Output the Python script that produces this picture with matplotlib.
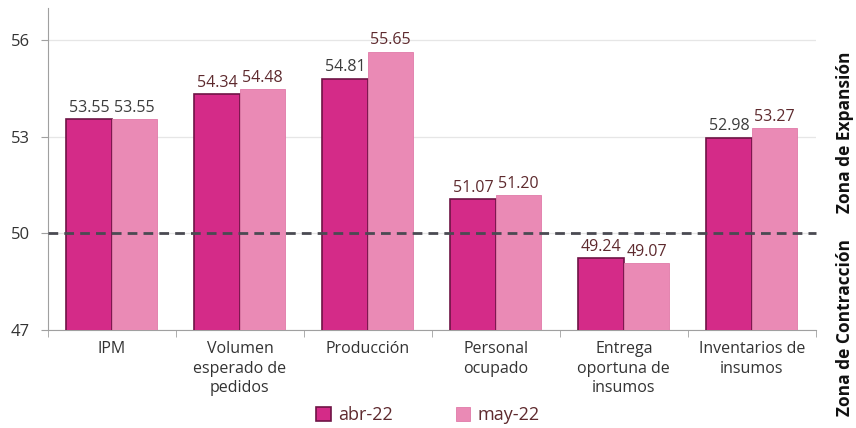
import matplotlib
matplotlib.use("Agg")
import matplotlib.pyplot as plt
import numpy as np

categories = ["IPM", "Volumen\nesperado de\npedidos", "Producción", "Personal\nocupado",
              "Entrega\noportuna de\ninsumos", "Inventarios de\ninsumos"]
abr_22 = [53.55, 54.34, 54.81, 51.07, 49.24, 52.98]
may_22 = [53.55, 54.48, 55.65, 51.20, 49.07, 53.27]
series_names = ["abr-22", "may-22"]
yticks = [47, 50, 53, 56]
threshold = 50

plt.rcParams['font.family'] = ['Open Sans', 'DejaVu Sans']

fig = plt.figure(figsize=(8.56, 4.28), dpi=100)
ax = fig.add_axes([0.056, 0.229, 0.897, 0.752])

x = np.arange(len(categories))
w = 0.355
c_abr = "#D42B88"
c_may = "#EA8AB5"
b1 = ax.bar(x - w/2, abr_22, w, bottom=0, color=c_abr, edgecolor="#6E1445", linewidth=1.2, label=series_names[0], zorder=3)
b2 = ax.bar(x + w/2, may_22, w, bottom=0, color=c_may, edgecolor="#E07AA8", linewidth=0.6, label=series_names[1], zorder=3)

lab_dark = "#3C3C3C"
lab_maroon = "#5E2A2E"
for i, (a, m) in enumerate(zip(abr_22, may_22)):
    ca = lab_dark if i in (0, 2, 5) else lab_maroon
    cm = lab_dark if i == 0 else lab_maroon
    ax.text(x[i] - w/2, a + 0.1, f"{a:.2f}", ha="center", va="bottom", fontsize=11.5, color=ca, zorder=5)
    ax.text(x[i] + w/2, m + 0.1, f"{m:.2f}", ha="center", va="bottom", fontsize=11.5, color=cm, zorder=5)

ax.axhline(threshold, color="#4A4A52", lw=2, dashes=(3.5, 2.2), zorder=4, clip_on=False)

ax.set_xlim(-0.5, len(categories) - 0.5)
ax.set_ylim(47, 57)
ax.set_yticks(yticks)
ax.set_yticklabels([str(t) for t in yticks], fontsize=12, color="#333333")
ax.yaxis.grid(True, color="#E6E6E6", lw=0.9, zorder=0)
ax.set_axisbelow(True)

ax.set_xticks(x)
ax.set_xticklabels(categories, fontsize=11.5, color="#333333", linespacing=1.3)
ax.tick_params(axis="x", length=0, pad=8)
ax.set_xticks(np.arange(-0.5, len(categories)), minor=True)
ax.tick_params(axis="x", which="minor", length=5, color="#A0A0A0")
ax.tick_params(axis="y", length=5, color="#A0A0A0", pad=8)

for s in ["top", "right"]:
    ax.spines[s].set_visible(False)
ax.spines["left"].set_color("#A0A0A0")
ax.spines["bottom"].set_color("#A0A0A0")

leg = fig.legend(handles=[b1, b2], labels=series_names, loc="center", bbox_to_anchor=(0.5, 0.03),
                 ncol=2, frameon=False, fontsize=13, handlelength=0.8, handleheight=0.8,
                 columnspacing=3.5, handletextpad=0.4)
for t in leg.get_texts():
    t.set_color("#5E2A2E")

fig.text(0.987, 0.234, "Zona de Contracción", rotation=90, ha="center", va="center",
         fontsize=12.5, fontweight="bold", color="#111111")
fig.text(0.987, 0.69, "Zona de Expansión", rotation=90, ha="center", va="center",
         fontsize=12.5, fontweight="bold", color="#111111")

fig.savefig("out.png", dpi=100)
